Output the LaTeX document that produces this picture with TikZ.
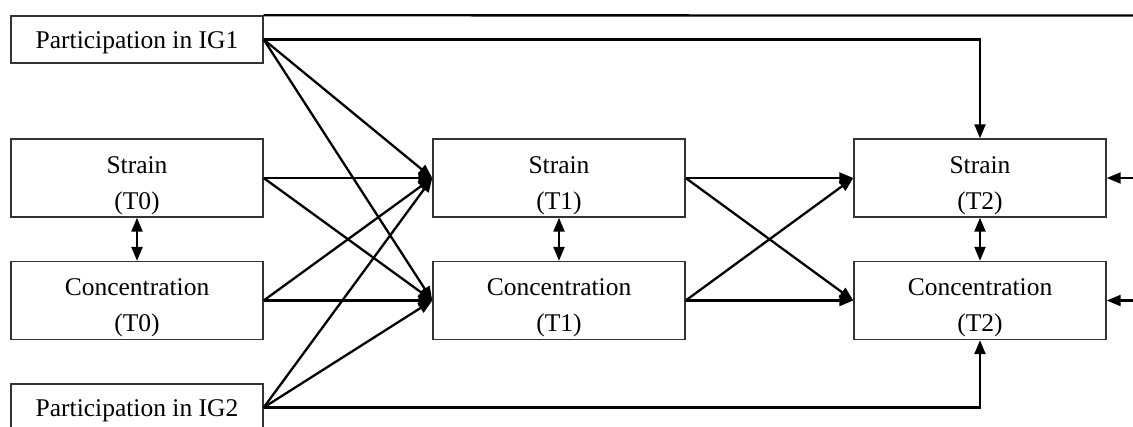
\documentclass[tikz,border=0pt]{standalone}
\usepackage{fontspec}
\setmainfont{Liberation Serif}
\usetikzlibrary{arrows.meta}
\newcommand\droptext{\rule{0pt}{32pt}}
\begin{document}
\begin{tikzpicture}[x=1pt,y=-1pt,
  box/.style={draw=black!80,line width=1.4pt,minimum width=252pt,inner sep=0pt,align=center,
    font=\fontsize{25.5}{36}\selectfont},
  bigbox/.style={box,minimum height=78pt},
  smallbox/.style={box,minimum height=47pt,execute at begin node={\rule{0pt}{22.5pt}}},
  tip/.tip={Triangle[length=14pt,width=11pt]},
  conn/.style={line width=2.3pt,-tip},
  both/.style={line width=2.3pt,tip-tip},
  plain/.style={line width=2.3pt}]
\useasboundingbox (0,0) rectangle (1133,426);
\node[smallbox] (ig1) at (137,39.5) {Participation in IG1};
\node[bigbox] (s0) at (137,178) {\droptext Strain\\(T0)};
\node[bigbox] (c0) at (137,300.5) {\droptext Concentration\\(T0)};
\node[smallbox] (ig2) at (137,407.5) {Participation in IG2};
\node[bigbox] (s1) at (559,178) {\droptext Strain\\(T1)};
\node[bigbox] (c1) at (559,300.5) {\droptext Concentration\\(T1)};
\node[bigbox] (s2) at (980,178) {\droptext Strain\\(T2)};
\node[bigbox] (c2) at (980,300.5) {\droptext Concentration\\(T2)};
\coordinate (topR) at (1133,15.5);
\coordinate (rS) at (1133,178);
\coordinate (rC) at (1133,300.5);
\draw[plain] (ig1.north east) -- (topR);
\draw[conn] (ig1.east) -| (s2.north);
\draw[conn] (ig2.east) -| (c2.south);
\foreach \a in {ig1,s0,c0,ig2}{
  \draw[conn] (\a.east) -- (s1.west);
  \draw[conn] (\a.east) -- (c1.west);
}
\foreach \a in {s1,c1}{
  \draw[conn] (\a.east) -- (s2.west);
  \draw[conn] (\a.east) -- (c2.west);
}
\draw[both] (s0.south) -- (c0.north);
\draw[both] (s1.south) -- (c1.north);
\draw[both] (s2.south) -- (c2.north);
\draw[conn] (rS) -- (s2.east);
\draw[conn] (rC) -- (c2.east);
\end{tikzpicture}
\end{document}
